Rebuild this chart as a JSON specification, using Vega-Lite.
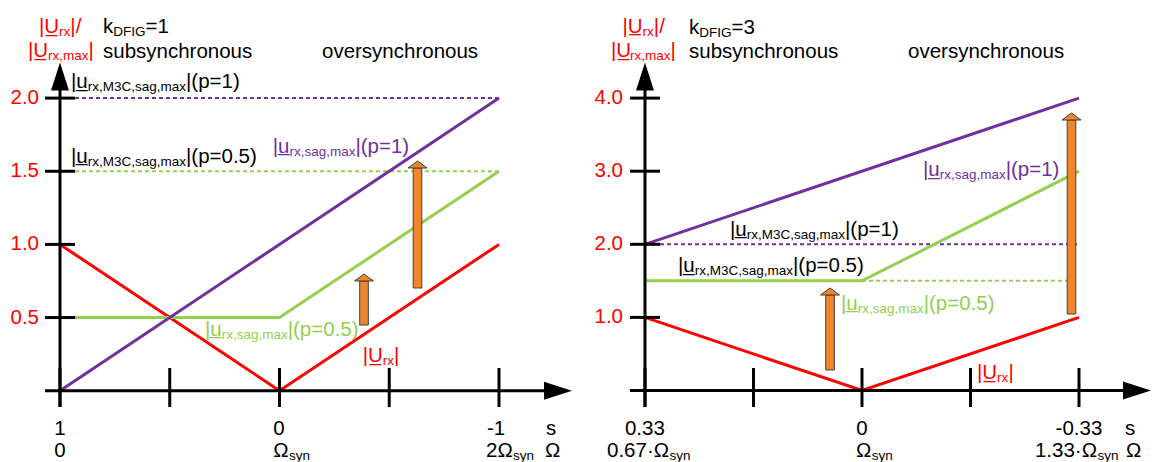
{
  "$schema": "https://vega.github.io/schema/vega-lite/v6.json",
  "padding": 0,
  "bounds": "flush",
  "spacing": 0,
  "background": "white",
  "config": {"view": {"stroke": null}, "concat": {"spacing": 0}},
  "resolve": {"scale": {"x": "independent", "y": "independent"}},
  "datasets": {
    "curves": [
      {"panel": "L", "series": "Urx", "i": 0, "s": 1, "y": 1},
      {"panel": "L", "series": "Urx", "i": 1, "s": 0, "y": 0},
      {"panel": "L", "series": "Urx", "i": 2, "s": -1, "y": 1},
      {"panel": "L", "series": "p05", "i": 0, "s": 1, "y": 0.5},
      {"panel": "L", "series": "p05", "i": 1, "s": 0, "y": 0.5},
      {"panel": "L", "series": "p05", "i": 2, "s": -1, "y": 1.5},
      {"panel": "L", "series": "p1", "i": 0, "s": 1, "y": 0},
      {"panel": "L", "series": "p1", "i": 1, "s": -1, "y": 2},
      {"panel": "R", "series": "Urx", "i": 0, "s": 0.33333, "y": 1},
      {"panel": "R", "series": "Urx", "i": 1, "s": 0, "y": 0},
      {"panel": "R", "series": "Urx", "i": 2, "s": -0.33333, "y": 1},
      {"panel": "R", "series": "p05", "i": 0, "s": 0.33333, "y": 1.5},
      {"panel": "R", "series": "p05", "i": 1, "s": 0, "y": 1.5},
      {"panel": "R", "series": "p05", "i": 2, "s": -0.33333, "y": 3},
      {"panel": "R", "series": "p1", "i": 0, "s": 0.33333, "y": 2},
      {"panel": "R", "series": "p1", "i": 1, "s": -0.33333, "y": 4}
    ],
    "limits": [
      {"panel": "L", "series": "p1", "s": 0.9317, "s2": -1, "y": 2},
      {"panel": "L", "series": "p05", "s": 0.9317, "s2": -1, "y": 1.5},
      {"panel": "R", "series": "p1", "s": 0.3103, "s2": -0.33333, "y": 2},
      {"panel": "R", "series": "p05", "s": 0, "s2": -0.33333, "y": 1.5}
    ],
    "axes": [
      {"panel": "L", "s": 1.0683, "s2": -1.2688, "y": 0, "y2": 0},
      {"panel": "L", "s": 1, "s2": 1, "y": -0.1114, "y2": 2.1477},
      {"panel": "L", "s": 1, "s2": 1, "y": -0.1114, "y2": 0.1552},
      {"panel": "L", "s": 0.5, "s2": 0.5, "y": -0.1114, "y2": 0.1552},
      {"panel": "L", "s": 0, "s2": 0, "y": -0.1114, "y2": 0.1552},
      {"panel": "L", "s": -0.5, "s2": -0.5, "y": -0.1114, "y2": 0.1552},
      {"panel": "L", "s": -1, "s2": -1, "y": -0.1114, "y2": 0.1552},
      {"panel": "L", "s": 1.0683, "s2": 0.9317, "y": 0.5, "y2": 0.5},
      {"panel": "L", "s": 1.0683, "s2": 0.9317, "y": 1, "y2": 1},
      {"panel": "L", "s": 1.0683, "s2": 0.9317, "y": 1.5, "y2": 1.5},
      {"panel": "L", "s": 1.0683, "s2": 0.9317, "y": 2, "y2": 2},
      {"panel": "R", "s": 0.3564, "s2": -0.4224, "y": 0, "y2": 0},
      {"panel": "R", "s": 0.33333, "s2": 0.33333, "y": -0.2257, "y2": 4.2955},
      {"panel": "R", "s": 0.33333, "s2": 0.33333, "y": -0.2257, "y2": 0.3078},
      {"panel": "R", "s": 0.16667, "s2": 0.16667, "y": -0.2257, "y2": 0.3078},
      {"panel": "R", "s": 0, "s2": 0, "y": -0.2257, "y2": 0.3078},
      {"panel": "R", "s": -0.16667, "s2": -0.16667, "y": -0.2257, "y2": 0.3078},
      {"panel": "R", "s": -0.33333, "s2": -0.33333, "y": -0.2257, "y2": 0.3078},
      {"panel": "R", "s": 0.3564, "s2": 0.3103, "y": 1, "y2": 1},
      {"panel": "R", "s": 0.3564, "s2": 0.3103, "y": 2, "y2": 2},
      {"panel": "R", "s": 0.3564, "s2": 0.3103, "y": 3, "y2": 3},
      {"panel": "R", "s": 0.3564, "s2": 0.3103, "y": 4, "y2": 4}
    ],
    "axisHeads": [
      {"panel": "L", "dir": "right", "s": -1.2688, "y": 0},
      {"panel": "L", "dir": "up", "s": 1, "y": 2.1477},
      {"panel": "R", "dir": "right", "s": -0.4224, "y": 0},
      {"panel": "R", "dir": "up", "s": 0.33333, "y": 4.2955}
    ],
    "boosts": [
      {"panel": "L", "s": -0.4046, "s2": -0.3654, "y": 0.4491, "y2": 0.7498},
      {"panel": "L", "s": -0.6483, "s2": -0.6091, "y": 0.702, "y2": 1.5222},
      {"panel": "R", "s": 0.0425, "s2": 0.0557, "y": 0.2804, "y2": 1.3064},
      {"panel": "R", "s": -0.3284, "s2": -0.3152, "y": 1.0465, "y2": 3.7004}
    ],
    "boostHeads": [
      {"panel": "L", "s": -0.385, "y": 0.7738},
      {"panel": "L", "s": -0.6287, "y": 1.5462},
      {"panel": "R", "s": 0.0491, "y": 1.3543},
      {"panel": "R", "s": -0.3218, "y": 3.7483}
    ],
    "ylabels": [
      {"panel": "L", "s": 1.0957, "y": 0.5},
      {"panel": "L", "s": 1.0957, "y": 1},
      {"panel": "L", "s": 1.0957, "y": 1.5},
      {"panel": "L", "s": 1.0957, "y": 2},
      {"panel": "R", "s": 0.3671, "y": 1},
      {"panel": "R", "s": 0.3671, "y": 2},
      {"panel": "R", "s": 0.3671, "y": 3},
      {"panel": "R", "s": 0.3671, "y": 4}
    ],
    "labels": [
      {"panel": "L", "series": "Urx", "role": "main", "s": 1.0957, "y": 2.445, "t": "|U\u0332"},
      {"panel": "L", "series": "Urx", "role": "sub", "s": 1.004, "y": 2.445, "t": "rx"},
      {"panel": "L", "series": "Urx", "role": "main", "s": 0.9527, "y": 2.445, "t": "|/"},
      {"panel": "L", "series": "Urx", "role": "main", "s": 1.1458, "y": 2.2809, "t": "|U\u0332"},
      {"panel": "L", "series": "Urx", "role": "sub", "s": 1.0541, "y": 2.2809, "t": "rx,max"},
      {"panel": "L", "series": "Urx", "role": "main", "s": 0.8696, "y": 2.2809, "t": "|"},
      {"panel": "L", "series": "text", "role": "main", "s": 0.8041, "y": 2.4416, "t": "k"},
      {"panel": "L", "series": "text", "role": "sub", "s": 0.7574, "y": 2.4416, "t": "DFIG"},
      {"panel": "L", "series": "text", "role": "main", "s": 0.6105, "y": 2.4416, "t": "=1"},
      {"panel": "L", "series": "text", "role": "main", "s": 0.8041, "y": 2.2741, "t": "subsynchronous"},
      {"panel": "L", "series": "text", "role": "main", "s": -0.1936, "y": 2.2741, "t": "oversynchronous"},
      {"panel": "L", "series": "text", "role": "main", "s": 0.9499, "y": 2.0656, "t": "|u\u0332"},
      {"panel": "L", "series": "text", "role": "sub", "s": 0.8737, "y": 2.0656, "t": "rx,M3C,sag,max"},
      {"panel": "L", "series": "text", "role": "main", "s": 0.426, "y": 2.0656, "t": "|(p=1)"},
      {"panel": "L", "series": "text", "role": "main", "s": 0.9499, "y": 1.5598, "t": "|u\u0332"},
      {"panel": "L", "series": "text", "role": "sub", "s": 0.8737, "y": 1.5598, "t": "rx,M3C,sag,max"},
      {"panel": "L", "series": "text", "role": "main", "s": 0.426, "y": 1.5598, "t": "|(p=0.5)"},
      {"panel": "L", "series": "p1", "role": "main", "s": 0.031, "y": 1.6268, "t": "|u\u0332"},
      {"panel": "L", "series": "p1", "role": "sub", "s": -0.0451, "y": 1.6268, "t": "rx,sag,max"},
      {"panel": "L", "series": "p1", "role": "main", "s": -0.3458, "y": 1.6268, "t": "|(p=1)"},
      {"panel": "L", "series": "p05", "role": "main", "s": 0.3394, "y": 0.3759, "t": "|u\u0332"},
      {"panel": "L", "series": "p05", "role": "sub", "s": 0.2633, "y": 0.3759, "t": "rx,sag,max"},
      {"panel": "L", "series": "p05", "role": "main", "s": -0.0374, "y": 0.3759, "t": "|(p=0.5)"},
      {"panel": "L", "series": "Urx", "role": "main", "s": -0.379, "y": 0.1934, "t": "|U\u0332"},
      {"panel": "L", "series": "Urx", "role": "sub", "s": -0.4706, "y": 0.1934, "t": "rx"},
      {"panel": "L", "series": "Urx", "role": "main", "s": -0.5221, "y": 0.1934, "t": "|"},
      {"panel": "L", "series": "text", "role": "main", "s": 1.026, "y": -0.3028, "t": "1"},
      {"panel": "L", "series": "text", "role": "main", "s": 0.0282, "y": -0.3028, "t": "0"},
      {"panel": "L", "series": "text", "role": "main", "s": -0.9449, "y": -0.3028, "t": "-1"},
      {"panel": "L", "series": "text", "role": "main", "s": -1.2141, "y": -0.3028, "t": "s"},
      {"panel": "L", "series": "text", "role": "main", "s": 1.026, "y": -0.4532, "t": "0"},
      {"panel": "L", "series": "text", "role": "main", "s": 0.0282, "y": -0.4532, "t": "Ω"},
      {"panel": "L", "series": "text", "role": "sub", "s": -0.0433, "y": -0.4532, "t": "syn"},
      {"panel": "L", "series": "text", "role": "main", "s": -0.9408, "y": -0.4532, "t": "2Ω"},
      {"panel": "L", "series": "text", "role": "sub", "s": -1.0642, "y": -0.4532, "t": "syn"},
      {"panel": "L", "series": "text", "role": "main", "s": -1.2096, "y": -0.4532, "t": "Ω"},
      {"panel": "R", "series": "Urx", "role": "main", "s": 0.3679, "y": 4.8974, "t": "|U\u0332"},
      {"panel": "R", "series": "Urx", "role": "sub", "s": 0.337, "y": 4.8974, "t": "rx"},
      {"panel": "R", "series": "Urx", "role": "main", "s": 0.3197, "y": 4.8974, "t": "|/"},
      {"panel": "R", "series": "Urx", "role": "main", "s": 0.3856, "y": 4.5622, "t": "|U\u0332"},
      {"panel": "R", "series": "Urx", "role": "sub", "s": 0.3562, "y": 4.5622, "t": "rx,max"},
      {"panel": "R", "series": "Urx", "role": "main", "s": 0.294, "y": 4.5622, "t": "|"},
      {"panel": "R", "series": "text", "role": "main", "s": 0.2657, "y": 4.8837, "t": "k"},
      {"panel": "R", "series": "text", "role": "sub", "s": 0.25, "y": 4.8837, "t": "DFIG"},
      {"panel": "R", "series": "text", "role": "main", "s": 0.2005, "y": 4.8837, "t": "=3"},
      {"panel": "R", "series": "text", "role": "main", "s": 0.2657, "y": 4.5486, "t": "subsynchronous"},
      {"panel": "R", "series": "text", "role": "main", "s": -0.0707, "y": 4.5486, "t": "oversynchronous"},
      {"panel": "R", "series": "p1", "role": "main", "s": -0.0937, "y": 2.9289, "t": "|u\u0332"},
      {"panel": "R", "series": "p1", "role": "sub", "s": -0.1194, "y": 2.9289, "t": "rx,sag,max"},
      {"panel": "R", "series": "p1", "role": "main", "s": -0.2207, "y": 2.9289, "t": "|(p=1)"},
      {"panel": "R", "series": "text", "role": "main", "s": 0.2028, "y": 2.1176, "t": "|u\u0332"},
      {"panel": "R", "series": "text", "role": "sub", "s": 0.1771, "y": 2.1176, "t": "rx,M3C,sag,max"},
      {"panel": "R", "series": "text", "role": "main", "s": 0.0261, "y": 2.1176, "t": "|(p=1)"},
      {"panel": "R", "series": "text", "role": "main", "s": 0.2826, "y": 1.6156, "t": "|u\u0332"},
      {"panel": "R", "series": "text", "role": "sub", "s": 0.257, "y": 1.6156, "t": "rx,M3C,sag,max"},
      {"panel": "R", "series": "text", "role": "main", "s": 0.106, "y": 1.6156, "t": "|(p=0.5)"},
      {"panel": "R", "series": "p05", "role": "main", "s": 0.0323, "y": 1.1053, "t": "|u\u0332"},
      {"panel": "R", "series": "p05", "role": "sub", "s": 0.0066, "y": 1.1053, "t": "rx,sag,max"},
      {"panel": "R", "series": "p05", "role": "main", "s": -0.0948, "y": 1.1053, "t": "|(p=0.5)"},
      {"panel": "R", "series": "Urx", "role": "main", "s": -0.1766, "y": 0.1573, "t": "|U\u0332"},
      {"panel": "R", "series": "Urx", "role": "sub", "s": -0.2075, "y": 0.1573, "t": "rx"},
      {"panel": "R", "series": "Urx", "role": "main", "s": -0.2249, "y": 0.1573, "t": "|"},
      {"panel": "R", "series": "text", "role": "main", "s": 0.3641, "y": -0.6088, "t": "0.33"},
      {"panel": "R", "series": "text", "role": "main", "s": 0.0088, "y": -0.6088, "t": "0"},
      {"panel": "R", "series": "text", "role": "main", "s": -0.2974, "y": -0.6088, "t": "-0.33"},
      {"panel": "R", "series": "text", "role": "main", "s": -0.404, "y": -0.6088, "t": "s"},
      {"panel": "R", "series": "text", "role": "main", "s": 0.3917, "y": -0.9097, "t": "0.67·Ω"},
      {"panel": "R", "series": "text", "role": "sub", "s": 0.2957, "y": -0.9097, "t": "syn"},
      {"panel": "R", "series": "text", "role": "main", "s": 0.0092, "y": -0.9097, "t": "Ω"},
      {"panel": "R", "series": "text", "role": "sub", "s": -0.0149, "y": -0.9097, "t": "syn"},
      {"panel": "R", "series": "text", "role": "main", "s": -0.2657, "y": -0.9097, "t": "1.33·Ω"},
      {"panel": "R", "series": "text", "role": "sub", "s": -0.3618, "y": -0.9097, "t": "syn"},
      {"panel": "R", "series": "text", "role": "main", "s": -0.4055, "y": -0.9097, "t": "Ω"}
    ]
  },
  "hconcat": [
    {
      "width": 579,
      "height": 462,
      "encoding": {
        "x": {"field": "s", "type": "quantitative", "scale": {"domain": [-1.3645, 1.2733], "reverse": true, "nice": false, "zero": false}, "axis": null},
        "y": {"field": "y", "type": "quantitative", "scale": {"domain": [-0.4873, 2.6705], "nice": false, "zero": false}, "axis": null}
      },
      "layer": [
        {"data": {"name": "limits"}, "transform": [{"filter": "datum.panel === 'L'"}],
         "mark": {"type": "rule", "strokeWidth": 2, "strokeDash": [4, 3]},
         "encoding": {"x2": {"field": "s2"}, "color": {"field": "series", "type": "nominal", "scale": {"domain": ["Urx", "p1", "p05", "text"], "range": ["#FF0000", "#7030A0", "#92D050", "#000000"]}, "legend": null}}},
        {"data": {"name": "curves"}, "transform": [{"filter": "datum.panel === 'L'"}],
         "mark": {"type": "line", "strokeWidth": 3},
         "encoding": {"order": {"field": "i", "type": "quantitative"}, "color": {"field": "series", "type": "nominal", "scale": {"domain": ["Urx", "p1", "p05", "text"], "range": ["#FF0000", "#7030A0", "#92D050", "#000000"]}, "legend": null}}},
        {"data": {"name": "axes"}, "transform": [{"filter": "datum.panel === 'L'"}],
         "mark": {"type": "rule", "strokeWidth": 3, "color": "#000000"},
         "encoding": {"x2": {"field": "s2"}, "y2": {"field": "y2"}}},
        {"data": {"name": "axisHeads"}, "transform": [{"filter": "datum.panel === 'L'"}],
         "mark": {"type": "point", "filled": true, "size": 784, "color": "#000000", "opacity": 1},
         "encoding": {"shape": {"field": "dir", "type": "nominal", "scale": {"domain": ["right", "up"], "range": ["M1,0L-1,-0.64L-1,0.64Z", "M0,-1L-0.64,1L0.64,1Z"]}, "legend": null}}},
        {"data": {"name": "boosts"}, "transform": [{"filter": "datum.panel === 'L'"}],
         "mark": {"type": "rect", "fill": "#F0862A", "stroke": "#404040", "strokeWidth": 1},
         "encoding": {"x2": {"field": "s2"}, "y2": {"field": "y2"}}},
        {"data": {"name": "boostHeads"}, "transform": [{"filter": "datum.panel === 'L'"}],
         "mark": {"type": "point", "shape": "M0,-0.35L0.95,0.35L-0.95,0.35Z", "size": 400, "filled": true, "fill": "#F0862A", "stroke": "#404040", "strokeWidth": 1, "opacity": 1}},
        {"data": {"name": "ylabels"}, "transform": [{"filter": "datum.panel === 'L'"}],
         "mark": {"type": "text", "align": "right", "baseline": "middle", "font": "Liberation Sans", "fontSize": 20.5, "color": "#FF0000"},
         "encoding": {"text": {"field": "y", "type": "quantitative", "format": ".1f"}}},
        {"data": {"name": "labels"}, "transform": [{"filter": "datum.panel === 'L' && datum.role === 'main'"}],
         "mark": {"type": "text", "align": "left", "baseline": "alphabetic", "font": "Liberation Sans", "fontSize": 20.5},
         "encoding": {"text": {"field": "t"}, "color": {"field": "series", "type": "nominal", "scale": {"domain": ["Urx", "p1", "p05", "text"], "range": ["#FF0000", "#7030A0", "#92D050", "#000000"]}, "legend": null}}},
        {"data": {"name": "labels"}, "transform": [{"filter": "datum.panel === 'L' && datum.role === 'sub'"}],
         "mark": {"type": "text", "align": "left", "baseline": "alphabetic", "font": "Liberation Sans", "fontSize": 13.5, "dy": 3},
         "encoding": {"text": {"field": "t"}, "color": {"field": "series", "type": "nominal", "scale": {"domain": ["Urx", "p1", "p05", "text"], "range": ["#FF0000", "#7030A0", "#92D050", "#000000"]}, "legend": null}}}
      ]
    },
    {
      "width": 579,
      "height": 462,
      "encoding": {
        "x": {"field": "s", "type": "quantitative", "scale": {"domain": [-0.4547, 0.4347], "reverse": true, "nice": false, "zero": false}, "axis": null},
        "y": {"field": "y", "type": "quantitative", "scale": {"domain": [-0.9781, 5.342], "nice": false, "zero": false}, "axis": null}
      },
      "layer": [
        {"data": {"name": "limits"}, "transform": [{"filter": "datum.panel === 'R'"}],
         "mark": {"type": "rule", "strokeWidth": 2, "strokeDash": [4, 3]},
         "encoding": {"x2": {"field": "s2"}, "color": {"field": "series", "type": "nominal", "scale": {"domain": ["Urx", "p1", "p05", "text"], "range": ["#FF0000", "#7030A0", "#92D050", "#000000"]}, "legend": null}}},
        {"data": {"name": "curves"}, "transform": [{"filter": "datum.panel === 'R'"}],
         "mark": {"type": "line", "strokeWidth": 3},
         "encoding": {"order": {"field": "i", "type": "quantitative"}, "color": {"field": "series", "type": "nominal", "scale": {"domain": ["Urx", "p1", "p05", "text"], "range": ["#FF0000", "#7030A0", "#92D050", "#000000"]}, "legend": null}}},
        {"data": {"name": "axes"}, "transform": [{"filter": "datum.panel === 'R'"}],
         "mark": {"type": "rule", "strokeWidth": 3, "color": "#000000"},
         "encoding": {"x2": {"field": "s2"}, "y2": {"field": "y2"}}},
        {"data": {"name": "axisHeads"}, "transform": [{"filter": "datum.panel === 'R'"}],
         "mark": {"type": "point", "filled": true, "size": 784, "color": "#000000", "opacity": 1},
         "encoding": {"shape": {"field": "dir", "type": "nominal", "scale": {"domain": ["right", "up"], "range": ["M1,0L-1,-0.64L-1,0.64Z", "M0,-1L-0.64,1L0.64,1Z"]}, "legend": null}}},
        {"data": {"name": "boosts"}, "transform": [{"filter": "datum.panel === 'R'"}],
         "mark": {"type": "rect", "fill": "#F0862A", "stroke": "#404040", "strokeWidth": 1},
         "encoding": {"x2": {"field": "s2"}, "y2": {"field": "y2"}}},
        {"data": {"name": "boostHeads"}, "transform": [{"filter": "datum.panel === 'R'"}],
         "mark": {"type": "point", "shape": "M0,-0.35L0.95,0.35L-0.95,0.35Z", "size": 400, "filled": true, "fill": "#F0862A", "stroke": "#404040", "strokeWidth": 1, "opacity": 1}},
        {"data": {"name": "ylabels"}, "transform": [{"filter": "datum.panel === 'R'"}],
         "mark": {"type": "text", "align": "right", "baseline": "middle", "font": "Liberation Sans", "fontSize": 20.5, "color": "#FF0000"},
         "encoding": {"text": {"field": "y", "type": "quantitative", "format": ".1f"}}},
        {"data": {"name": "labels"}, "transform": [{"filter": "datum.panel === 'R' && datum.role === 'main'"}],
         "mark": {"type": "text", "align": "left", "baseline": "alphabetic", "font": "Liberation Sans", "fontSize": 20.5},
         "encoding": {"text": {"field": "t"}, "color": {"field": "series", "type": "nominal", "scale": {"domain": ["Urx", "p1", "p05", "text"], "range": ["#FF0000", "#7030A0", "#92D050", "#000000"]}, "legend": null}}},
        {"data": {"name": "labels"}, "transform": [{"filter": "datum.panel === 'R' && datum.role === 'sub'"}],
         "mark": {"type": "text", "align": "left", "baseline": "alphabetic", "font": "Liberation Sans", "fontSize": 13.5, "dy": 3},
         "encoding": {"text": {"field": "t"}, "color": {"field": "series", "type": "nominal", "scale": {"domain": ["Urx", "p1", "p05", "text"], "range": ["#FF0000", "#7030A0", "#92D050", "#000000"]}, "legend": null}}}
      ]
    }
  ]
}
